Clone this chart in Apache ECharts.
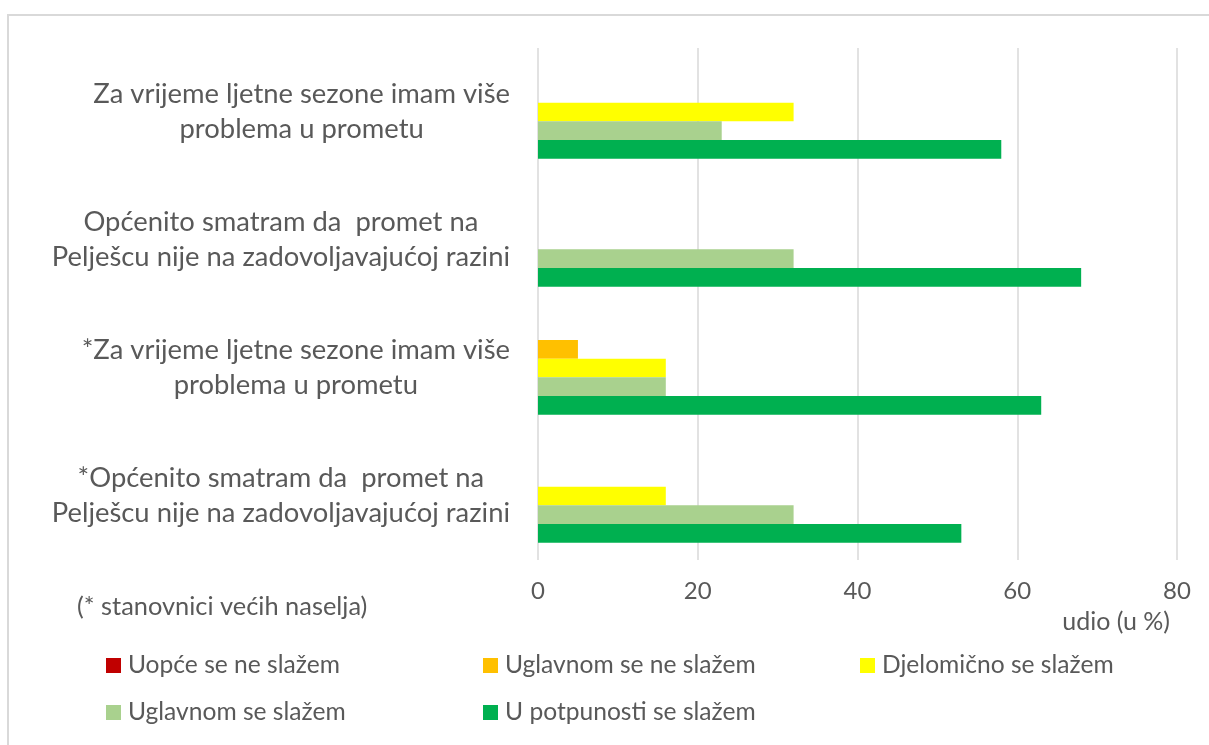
<!DOCTYPE html>
<html>
<head>
<meta charset="utf-8">
<script src="https://cdn.jsdelivr.net/npm/echarts@6/dist/echarts.min.js"></script>
<style>
  html, body { margin: 0; padding: 0; background: #fff; }
  #js-echarts { width: 1209px; height: 745px; }
</style>
</head>
<body>
<div id="js-echarts"></div>
<script>
const categories = [
  'Za vrijeme ljetne sezone imam više\nproblema u prometu',
  'Općenito smatram da  promet na\nPelješcu nije na zadovoljavajućoj razini',
  '*Za vrijeme ljetne sezone imam više\nproblema u prometu',
  '*Općenito smatram da  promet na\nPelješcu nije na zadovoljavajućoj razini'
];
const seriesNames = [
  'Uopće se ne slažem',
  'Uglavnom se ne slažem',
  'Djelomično se slažem',
  'Uglavnom se slažem',
  'U potpunosti se slažem'
];
const uopceNe = [0, 0, 0, 0];
const uglavnomNe = [0, 0, 5, 0];
const djelomicno = [32, 0, 16, 16];
const uglavnomDa = [23, 32, 16, 32];
const potpuno = [58, 68, 63, 53];
const xTicks = [0, 20, 40, 60, 80];
const note = '(* stanovnici većih naselja)';
const axisName = 'udio (u %)';

const chartDom = document.getElementById('js-echarts');
if(chartDom){
  const chart = echarts.init(chartDom);
  const theme = {
    red: '#C00000',
    orange: '#FFC000',
    yellow: '#FFFF00',
    lightGreen: '#A9D18E',
    green: '#00B050',
    grid: '#D9D9D9',
    text: '#595959',
    font: 'Lato'
  };
  const colors = [theme.red, theme.orange, theme.yellow, theme.lightGreen, theme.green];
  const values = [uopceNe, uglavnomNe, djelomicno, uglavnomDa, potpuno];

  // legend laid out like the Excel one: 3 columns, 2 rows
  const legendSpots = [[106, 653], [483, 653], [860, 653], [106, 700], [483, 700]];

  const option = {
    animation: false,
    color: colors,
    title: {
      text: note,
      left: 77,
      top: 594,
      padding: 0,
      textStyle: {
        color: theme.text,
        fontFamily: theme.font,
        fontSize: 25.4,
        fontWeight: 'normal'
      }
    },
    legend: seriesNames.map((name, i) => ({
      data: [name],
      left: legendSpots[i][0],
      top: legendSpots[i][1],
      padding: 0,
      icon: 'rect',
      itemWidth: 15,
      itemHeight: 15,
      textStyle: {
        color: theme.text,
        fontFamily: theme.font,
        fontSize: 24.6,
        padding: [0, 0, 0, 2]
      }
    })),
    graphic: [
      {
        type: 'rect',
        silent: true,
        shape: { x: 8, y: 15, width: 1400, height: 900 },
        style: { fill: 'none', stroke: theme.grid, lineWidth: 2 }
      }
    ],
    grid: {
      left: 538,
      right: 32,
      top: 48,
      bottom: 185
    },
    xAxis: {
      type: 'value',
      min: xTicks[0],
      max: xTicks[xTicks.length - 1],
      interval: 20,
      name: axisName,
      nameLocation: 'end',
      nameGap: -7,
      nameTextStyle: {
        color: theme.text,
        fontFamily: theme.font,
        fontSize: 25,
        align: 'right',
        verticalAlign: 'top',
        padding: [49, 0, 0, 0]
      },
      axisLine: { show: false },
      axisTick: { show: false },
      axisLabel: {
        margin: 19,
        color: theme.text,
        fontFamily: theme.font,
        fontSize: 24
      },
      splitLine: {
        lineStyle: { color: theme.grid, width: 1.5 }
      }
    },
    yAxis: {
      type: 'category',
      inverse: true,
      data: categories,
      axisLine: { show: false },
      axisTick: { show: false },
      axisLabel: {
        margin: 28,
        align: 'right',
        color: theme.text,
        fontFamily: theme.font,
        fontSize: 27.4,
        lineHeight: 35,
        formatter: (value) => value.split('\n').map(l => '{c|' + l + '}').join('\n'),
        rich: {
          c: {
            align: 'center',
            color: theme.text,
            fontFamily: theme.font,
            fontSize: 27.4,
            lineHeight: 35
          }
        }
      }
    },
    series: seriesNames.map((name, i) => ({
      name: name,
      type: 'bar',
      data: values[i],
      barGap: '0%',
      barCategoryGap: '27%',
      itemStyle: { color: colors[i] }
    }))
  };

  chart.setOption(option);
}
</script>
</body>
</html>
